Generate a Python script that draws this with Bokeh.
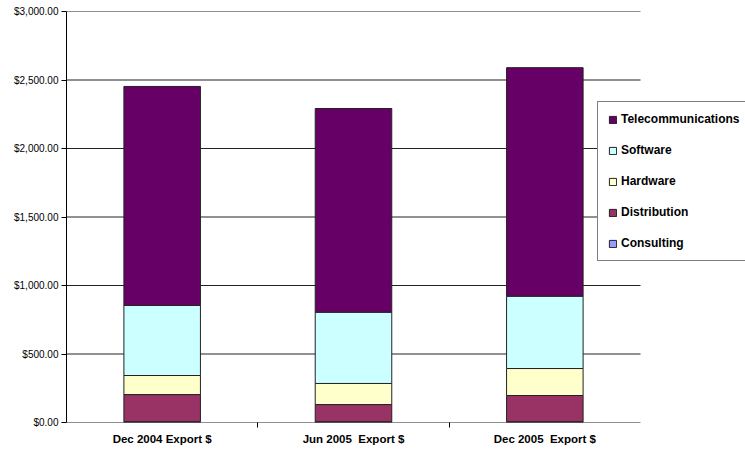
from bokeh.plotting import figure
from bokeh.models import (Range1d, FixedTicker, NumeralTickFormatter, Legend, LegendItem,
                          ColumnDataSource)
from bokeh.embed import file_html
from bokeh.resources import INLINE

categories = ["Dec 2004 Export $", "Jun 2005  Export $", "Dec 2005  Export $"]
series = ["Consulting", "Distribution", "Hardware", "Software", "Telecommunications"]
consulting = [6, 6, 6]
distribution = [198, 125, 191]
hardware = [139, 154, 197]
software = [511, 520, 528]
telecommunications = [1599, 1487, 1668]
colors = ["#9999FF", "#993366", "#FFFFCC", "#CCFFFF", "#660066"]
y_ticks = [0, 500, 1000, 1500, 2000, 2500, 3000]

n = len(categories)
xpos = [i + 0.5 for i in range(n)]
data = dict(x=xpos, Consulting=consulting, Distribution=distribution, Hardware=hardware,
            Software=software, Telecommunications=telecommunications)
src = ColumnDataSource(data)

# frame spans 66..745 px; categories occupy 0..n (66..640 px)
p = figure(width=745, height=450, output_backend="svg", toolbar_location=None,
           x_range=Range1d(0, n * 679 / 574), y_range=Range1d(0, 3000),
           min_border_left=66, min_border_right=0, min_border_top=11, min_border_bottom=28)
p.outline_line_color = None
p.background_fill_color = "white"
p.border_fill_color = "white"

# horizontal gridlines across the category area only
p.segment(x0=[0] * len(y_ticks), x1=[n] * len(y_ticks), y0=y_ticks, y1=y_ticks,
          line_color="#222222", line_width=1)

renderers = p.vbar_stack(series, x="x", width=0.4, source=src, fill_color=colors,
                         line_color="#222222", line_width=1)

# axes
p.xaxis.ticker = FixedTicker(ticks=xpos, minor_ticks=list(range(1, n)))
p.xaxis.major_label_overrides = {x: c.replace("  ", " \u00a0") for x, c in zip(xpos, categories)}
p.xaxis.major_tick_out = 0
p.xaxis.major_tick_in = 0
p.xaxis.minor_tick_out = 5
p.xaxis.minor_tick_in = 0
p.xaxis.minor_tick_line_color = "black"
p.xaxis.axis_line_color = None
p.xaxis.major_label_text_font = "Liberation Sans"
p.xaxis.major_label_text_font_style = "bold"
p.xaxis.major_label_text_font_size = "11.5px"
p.xaxis.major_label_text_color = "black"
p.xaxis.major_label_standoff = 5

p.yaxis.ticker = FixedTicker(ticks=y_ticks, minor_ticks=[])
p.yaxis.formatter = NumeralTickFormatter(format="$0,0.00")
p.yaxis.major_tick_out = 5
p.yaxis.major_tick_in = 0
p.yaxis.major_tick_line_color = "black"
p.yaxis.axis_line_color = "black"
p.yaxis.major_label_text_font = "Liberation Sans"
p.yaxis.major_label_text_font_size = "10px"
p.yaxis.major_label_text_color = "black"
p.yaxis.major_label_standoff = 3

p.xgrid.grid_line_color = None
p.ygrid.grid_line_color = None

items = [LegendItem(label=s, renderers=[r]) for s, r in zip(series, renderers)][::-1]
legend = Legend(items=items, location=(531, 161), orientation="vertical",
                border_line_color="black", border_line_width=1,
                background_fill_color="white", background_fill_alpha=1.0,
                glyph_width=9, glyph_height=9, label_height=12, spacing=17,
                padding=10, margin=0, label_standoff=4,
                label_text_font="Liberation Sans", label_text_font_style="bold",
                label_text_font_size="12px", label_text_color="black")
p.add_layout(legend, "center")

open("out.html", "w").write(file_html(p, INLINE))
